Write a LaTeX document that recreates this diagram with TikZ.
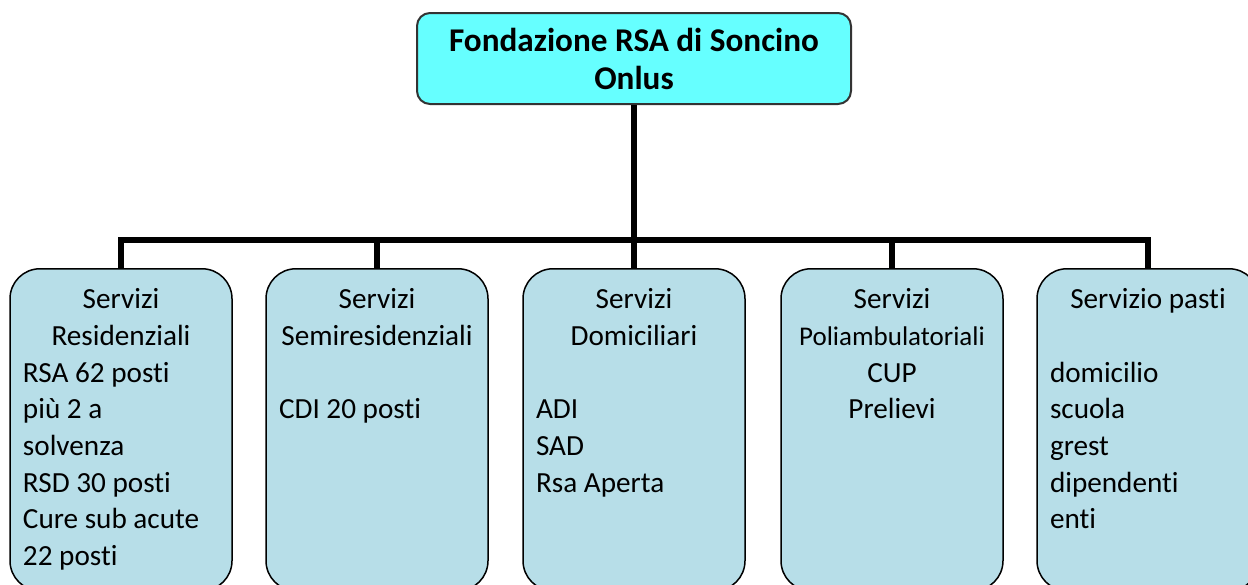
\documentclass[tikz,border=0pt]{standalone}
\usepackage{fontspec}
\setmainfont{Carlito}[Ligatures=NoCommon]
\usetikzlibrary{positioning}
\tikzset{>=stealth}
\definecolor{topcyan}{HTML}{66FFFF}
\definecolor{unitblue}{HTML}{B7DEE8}
\newcommand{\unittext}[1]{\parbox[t][161pt][t]{98pt}{\fontsize{14.6}{18.35}\selectfont\rule{0pt}{20pt}#1}}

\begin{document}
\begin{tikzpicture}[x=0.5pt, y=-0.5pt,
  head/.style={draw=black!80, line width=1pt, fill=topcyan, rounded corners=6.5pt,
    minimum width=217pt, minimum height=45.5pt, align=center,
    font=\bfseries\fontsize{16.6}{19}\selectfont},
  unit/.style={draw=black, line width=0.75pt, fill=unitblue, rounded corners=15pt,
    inner xsep=6.5pt, inner ysep=0pt, anchor=north},
  link/.style={line width=3pt}]
  \path[use as bounding box, clip] (0,0) rectangle (1248,584);
  \node[head] (F) at (634,58.5) {Fondazione RSA di Soncino\\Onlus};
  \node[unit] (S1) at (121,268) {\unittext{\centering Servizi\\Residenziali\par\raggedright
    RSA 62 posti\\più 2 a\\solvenza\\RSD 30 posti\\Cure sub acute\\22 posti}};
  \node[unit] (S2) at (377,268) {\unittext{\centering Servizi\\Semiresidenziali\par\raggedright
    \mbox{}\\CDI 20 posti}};
  \node[unit] (S3) at (634,268) {\unittext{\centering Servizi\\Domiciliari\par\raggedright
    \mbox{}\\ADI\\SAD\\Rsa Aperta}};
  \node[unit] (S4) at (892,268) {\unittext{\centering Servizi\\{\fontsize{13.5}{18.35}\selectfont Poliambulatoriali}\\CUP\\Prelievi}};
  \node[unit] (S5) at (1148,268) {\unittext{\centering Servizio pasti\par\raggedright
    \mbox{}\\domicilio\\scuola\\grest\\dipendenti\\enti}};
  \coordinate (J) at (634,240);
  \draw[link] (F) -- (J);
  \foreach \n in {1,...,5}
    \draw[link] (J) -| (S\n.north);
\end{tikzpicture}
\end{document}
